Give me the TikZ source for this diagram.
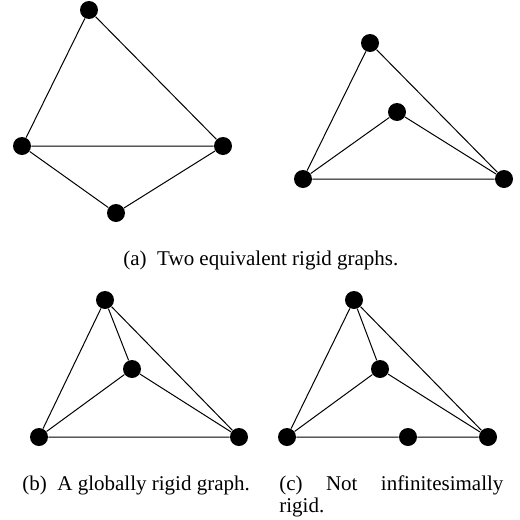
\documentclass[tikz,border=0pt]{standalone}
\usepackage{fontspec}
\setmainfont{Liberation Serif}
\begin{document}
\begin{tikzpicture}[x=0.5pt,y=-0.5pt,
  vtx/.style={circle,fill=black,inner sep=0pt,minimum size=9pt},
  edge/.style={draw=black,line width=0.5pt},
  captext/.style={font=\fontsize{10.5}{12.6}\selectfont,inner sep=0pt,anchor=base west}]
\useasboundingbox (0,0) rectangle (520,520);
% (a) left
\node[vtx] (a1) at (89,10) {};
\node[vtx] (a2) at (22,146) {};
\node[vtx] (a3) at (223,146) {};
\node[vtx] (a4) at (116,213) {};
\draw[edge] (a1)--(a2) (a1)--(a3) (a2)--(a3) (a2)--(a4) (a3)--(a4);
% (a) right
\node[vtx] (b1) at (370,43) {};
\node[vtx] (b2) at (397,112) {};
\node[vtx] (b3) at (303,179) {};
\node[vtx] (b4) at (504,179) {};
\draw[edge] (b1)--(b3) (b1)--(b4) (b3)--(b4) (b2)--(b3) (b2)--(b4);
\node[captext] (capa) at (123,265) {(a)\ \ Two equivalent rigid graphs.};
% (b)
\node[vtx] (c1) at (105,300) {};
\node[vtx] (c2) at (132,369) {};
\node[vtx] (c3) at (39,437) {};
\node[vtx] (c4) at (239,437) {};
\draw[edge] (c1)--(c3) (c1)--(c4) (c1)--(c2) (c2)--(c3) (c2)--(c4) (c3)--(c4);
\node[captext] (capb) at (22,490) {(b)\ \ A globally rigid graph.};
% (c)
\node[vtx] (d1) at (354,300) {};
\node[vtx] (d2) at (380,369) {};
\node[vtx] (d3) at (287,437) {};
\node[vtx] (d4) at (408,437) {};
\node[vtx] (d5) at (488,437) {};
\draw[edge] (d1)--(d3) (d1)--(d5) (d1)--(d2) (d2)--(d3) (d2)--(d5) (d3)--(d4) (d4)--(d5);
\node[captext] (capc1) at (279,490) {\hbox to 112pt{(c)\hfill Not\hfill infinitesimally}};
\node[captext] (capc2) at (279,512) {rigid.};
\end{tikzpicture}
\end{document}
